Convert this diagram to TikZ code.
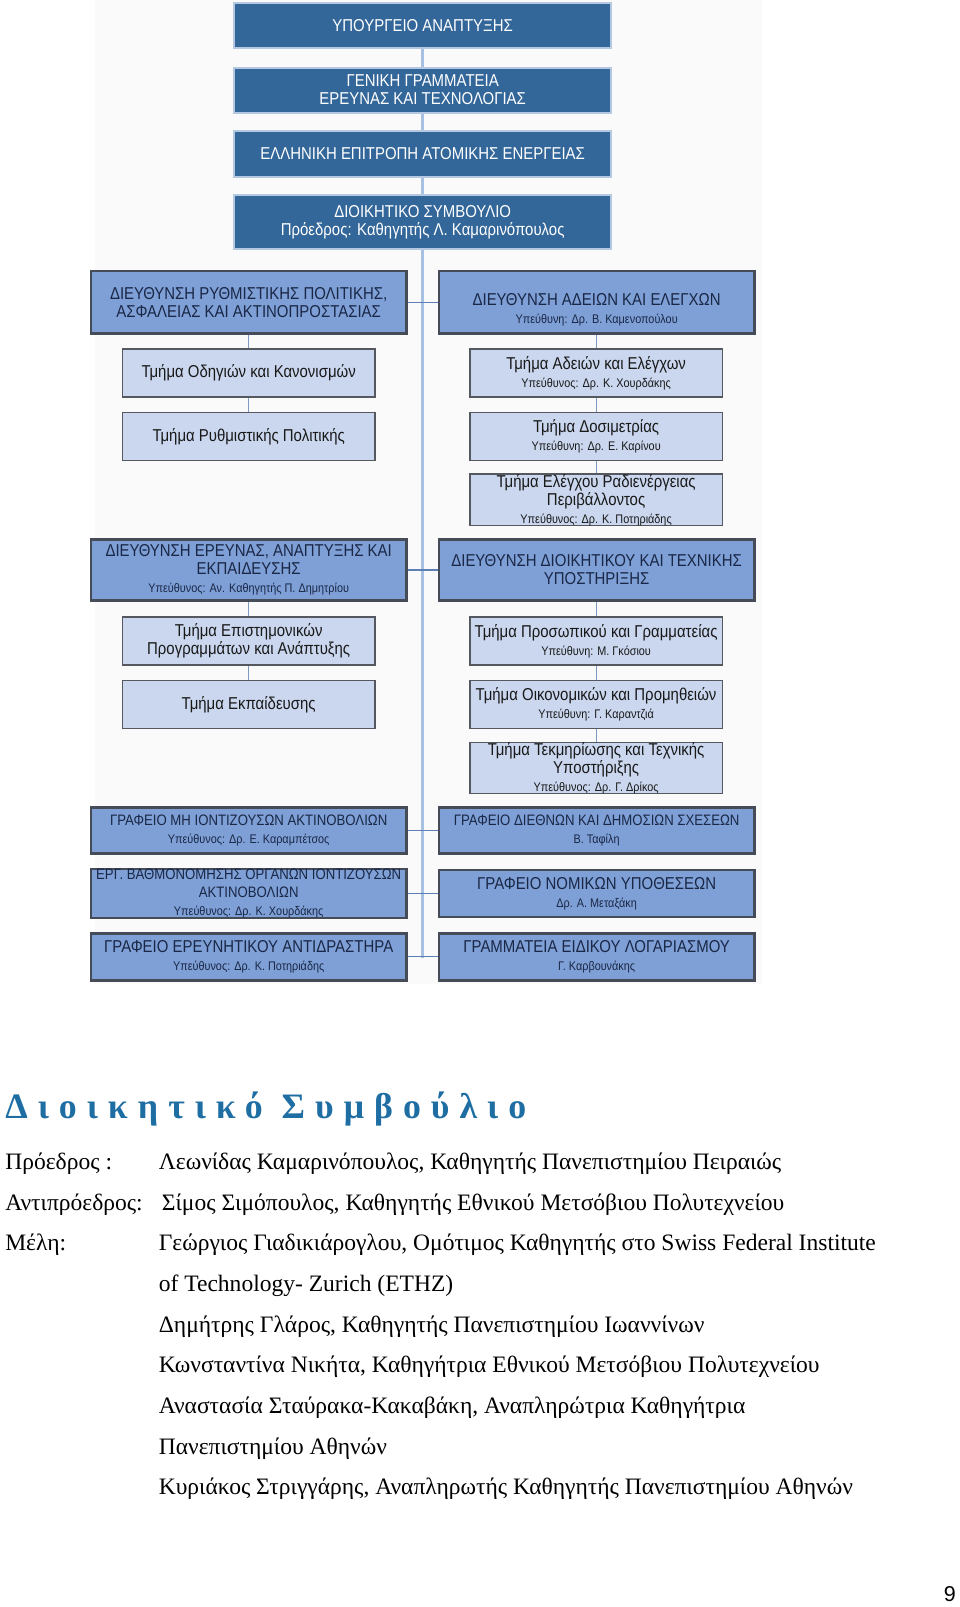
\documentclass[tikz,border=0pt]{standalone}
\usepackage{fontspec}
\setmainfont{Liberation Serif}
\newfontfamily\chartfont[FakeStretch=0.87]{Liberation Sans}
\newfontfamily\numfont{Liberation Sans}
\newfontfamily\titlefont[LetterSpace=28]{Liberation Serif}
\definecolor{topfill}{HTML}{336699}
\definecolor{topedge}{HTML}{B4C8E2}
\definecolor{dirfill}{HTML}{7EA0D6}
\definecolor{diredge}{HTML}{454C58}
\definecolor{dirtext}{HTML}{1A2746}
\definecolor{secfill}{HTML}{CAD7EE}
\definecolor{secedge}{HTML}{55595F}
\definecolor{spine}{HTML}{A8C0E2}
\definecolor{link}{HTML}{5C80B4}
\definecolor{titleblue}{HTML}{1F6EA3}
\newcommand{\chbig}{\fontsize{16.8}{17.5}\selectfont}
\newcommand{\chsml}{\fontsize{12.2}{13}\selectfont}
\newcommand{\chmid}{\fontsize{14.8}{15.5}\selectfont}
\tikzset{
  topbox/.style={draw=topedge, line width=2pt, fill=topfill, text=white,
    minimum width=368, align=center, inner sep=0pt, font=\chartfont\chbig},
  dirbox/.style={draw=diredge, line width=2.5pt, fill=dirfill, text=dirtext,
    minimum width=308, align=center, inner sep=0pt, font=\chartfont\chbig},
  secbox/.style={draw=secedge, line width=1.5pt, fill=secfill, text=black!90,
    minimum width=247, minimum height=47, align=center, inner sep=0pt, font=\chartfont\chbig},
  spineline/.style={draw=spine, line width=3.5pt},
  linkline/.style={draw=link, line width=1.2pt},
  colline/.style={draw=link!80, line width=1pt},
  bodytext/.style={anchor=base west, inner sep=0pt, font=\fontsize{23}{26}\selectfont}
}
\begin{document}
\begin{tikzpicture}[x=1pt,y=-1pt]
\useasboundingbox (0,0) rectangle (938,1570.3);
\fill[black!2] (93,0) rectangle (745,962);
% spine
\coordinate (spinetop) at (413,47);
\coordinate (spinebot) at (413,936);
\draw[spineline] (spinetop) -- (spinebot);
% top boxes
\node[topbox, minimum height=44] (t1) at (413,25) {ΥΠΟΥΡΓΕΙΟ ΑΝΑΠΤΥΞΗΣ};
\node[topbox, minimum height=44] (t2) at (413,88) {ΓΕΝΙΚΗ ΓΡΑΜΜΑΤΕΙΑ\\ΕΡΕΥΝΑΣ ΚΑΙ ΤΕΧΝΟΛΟΓΙΑΣ};
\node[topbox, minimum height=45] (t3) at (413,150.5) {ΕΛΛΗΝΙΚΗ ΕΠΙΤΡΟΠΗ ΑΤΟΜΙΚΗΣ ΕΝΕΡΓΕΙΑΣ};
\node[topbox, minimum height=52] (t4) at (413,217) {ΔΙΟΙΚΗΤΙΚΟ ΣΥΜΒΟΥΛΙΟ\\Πρόεδρος: Καθηγητής Λ. Καμαρινόπουλος};
% row 1 directorates
\node[dirbox, minimum height=61] (d1l) at (243,295.5) {ΔΙΕΥΘΥΝΣΗ ΡΥΘΜΙΣΤΙΚΗΣ ΠΟΛΙΤΙΚΗΣ,\\ΑΣΦΑΛΕΙΑΣ ΚΑΙ ΑΚΤΙΝΟΠΡΟΣΤΑΣΙΑΣ};
\node[dirbox, minimum height=61] (d1r) at (583,295.5) {\rule{0pt}{27pt}ΔΙΕΥΘΥΝΣΗ ΑΔΕΙΩΝ ΚΑΙ ΕΛΕΓΧΩΝ\\{\chsml Υπεύθυνη: Δρ. Β. Καμενοπούλου}};
\draw[linkline] (d1l.east) -- (d1r.west);
\node[secbox] (s1l1) at (243,364.5) {Τμήμα Οδηγιών και Κανονισμών};
\node[secbox] (s1l2) at (243,426.5) {Τμήμα Ρυθμιστικής Πολιτικής};
\node[secbox] (s1r1) at (582.5,364.5) {Τμήμα Αδειών και Ελέγχων\\{\chsml Υπεύθυνος: Δρ. Κ. Χουρδάκης}};
\node[secbox] (s1r2) at (582.5,426.5) {Τμήμα Δοσιμετρίας\\{\chsml Υπεύθυνη: Δρ. Ε. Καρίνου}};
\node[secbox] (s1r3) at (582.5,488.5) {Τμήμα Ελέγχου Ραδιενέργειας\\Περιβάλλοντος\\{\chsml Υπεύθυνος: Δρ. Κ. Ποτηριάδης}};
\draw[colline] (d1l.south) -- (s1l1.north);
\draw[colline] (s1l1.south) -- (s1l2.north);
\draw[colline] (s1r1.north |- d1r.south) -- (s1r1.north);
\draw[colline] (s1r1.south) -- (s1r2.north);
\draw[colline] (s1r2.south) -- (s1r3.north);
% row 2 directorates
\node[dirbox, minimum height=60] (d2l) at (243,557) {ΔΙΕΥΘΥΝΣΗ ΕΡΕΥΝΑΣ, ΑΝΑΠΤΥΞΗΣ ΚΑΙ\\ΕΚΠΑΙΔΕΥΣΗΣ\\{\chsml Υπεύθυνος: Αν. Καθηγητής Π. Δημητρίου}};
\node[dirbox, minimum height=60] (d2r) at (583,557) {ΔΙΕΥΘΥΝΣΗ ΔΙΟΙΚΗΤΙΚΟΥ ΚΑΙ ΤΕΧΝΙΚΗΣ\\ΥΠΟΣΤΗΡΙΞΗΣ};
\draw[linkline] (d2l.east) -- (d2r.west);
\node[secbox] (s2l1) at (243,626.5) {Τμήμα Επιστημονικών\\Προγραμμάτων και Ανάπτυξης};
\node[secbox] (s2l2) at (243,688.5) {Τμήμα Εκπαίδευσης};
\node[secbox] (s2r1) at (582.5,626.5) {Τμήμα Προσωπικού και Γραμματείας\\{\chsml Υπεύθυνη: Μ. Γκόσιου}};
\node[secbox] (s2r2) at (582.5,688.5) {Τμήμα Οικονομικών και Προμηθειών\\{\chsml Υπεύθυνη: Γ. Καραντζιά}};
\node[secbox] (s2r3) at (582.5,750.5) {Τμήμα Τεκμηρίωσης και Τεχνικής\\Υποστήριξης\\{\chsml Υπεύθυνος: Δρ. Γ. Δρίκος}};
\draw[colline] (d2l.south) -- (s2l1.north);
\draw[colline] (s2l1.south) -- (s2l2.north);
\draw[colline] (s2r1.north |- d2r.south) -- (s2r1.north);
\draw[colline] (s2r1.south) -- (s2r2.north);
\draw[colline] (s2r2.south) -- (s2r3.north);
% offices
\node[dirbox, minimum height=45] (o1l) at (243,811.5) {{\chmid ΓΡΑΦΕΙΟ ΜΗ ΙΟΝΤΙΖΟΥΣΩΝ ΑΚΤΙΝΟΒΟΛΙΩΝ}\\{\chsml Υπεύθυνος: Δρ. Ε. Καραμπέτσος}};
\node[dirbox, minimum height=45] (o1r) at (583,811.5) {{\chmid ΓΡΑΦΕΙΟ ΔΙΕΘΝΩΝ ΚΑΙ ΔΗΜΟΣΙΩΝ ΣΧΕΣΕΩΝ}\\{\chsml Β. Ταφίλη}};
\draw[linkline] (o1l.east) -- (o1r.west);
\node[dirbox, minimum height=46] (o2l) at (243,873) {{\chmid ΕΡΓ. ΒΑΘΜΟΝΟΜΗΣΗΣ ΟΡΓΑΝΩΝ ΙΟΝΤΙΖΟΥΣΩΝ}\\{\chmid ΑΚΤΙΝΟΒΟΛΙΩΝ}\\{\chsml Υπεύθυνος: Δρ. Κ. Χουρδάκης}};
\node[dirbox, minimum height=46] (o2r) at (583,873) {ΓΡΑΦΕΙΟ ΝΟΜΙΚΩΝ ΥΠΟΘΕΣΕΩΝ\\{\chsml Δρ. Α. Μεταξάκη}};
\draw[linkline] (o2l.east) -- (o2r.west);
\node[dirbox, minimum height=46] (o3l) at (243,935) {ΓΡΑΦΕΙΟ ΕΡΕΥΝΗΤΙΚΟΥ ΑΝΤΙΔΡΑΣΤΗΡΑ\\{\chsml Υπεύθυνος: Δρ. Κ. Ποτηριάδης}};
\node[dirbox, minimum height=46] (o3r) at (583,935) {ΓΡΑΜΜΑΤΕΙΑ ΕΙΔΙΚΟΥ ΛΟΓΑΡΙΑΣΜΟΥ\\{\chsml Γ. Καρβουνάκης}};
\draw[linkline] (o3l.east) -- (o3r.west);
% text section
\node[anchor=base west, inner sep=0pt, text=titleblue, font=\titlefont\bfseries\fontsize{35}{38}\selectfont] (title) at (5,1093) {Διοικητικό Συμβούλιο};
\node[bodytext] (lab1) at (5,1143) {Πρόεδρος :};
\node[bodytext] (lab2) at (5,1183) {Αντιπρόεδρος:};
\node[bodytext] (lab3) at (5,1222) {Μέλη:};
\node[bodytext] (b1) at (155,1143) {Λεωνίδας Καμαρινόπουλος, Καθηγητής Πανεπιστημίου Πειραιώς};
\node[bodytext] (b2) at (158,1183) {Σίμος Σιμόπουλος, Καθηγητής Εθνικού Μετσόβιου Πολυτεχνείου};
\node[bodytext] (b3) at (155,1222) {Γεώργιος Γιαδικιάρογλου, Ομότιμος Καθηγητής στο Swiss Federal Institute};
\node[bodytext] (b4) at (155,1262) {of Technology- Zurich (ETHZ)};
\node[bodytext] (b5) at (155,1302) {Δημήτρης Γλάρος, Καθηγητής Πανεπιστημίου Ιωαννίνων};
\node[bodytext] (b6) at (155,1341) {Κωνσταντίνα Νικήτα, Καθηγήτρια Εθνικού Μετσόβιου Πολυτεχνείου};
\node[bodytext] (b7) at (155,1381) {Αναστασία Σταύρακα-Κακαβάκη, Αναπληρώτρια Καθηγήτρια};
\node[bodytext] (b8) at (155,1421) {Πανεπιστημίου Αθηνών};
\node[bodytext] (b9) at (155,1460) {Κυριάκος Στριγγάρης, Αναπληρωτής Καθηγητής Πανεπιστημίου Αθηνών};
\node[anchor=base west, inner sep=0pt, font=\numfont\fontsize{21}{24}\selectfont] (pnum) at (922,1565) {9};
\end{tikzpicture}
\end{document}
